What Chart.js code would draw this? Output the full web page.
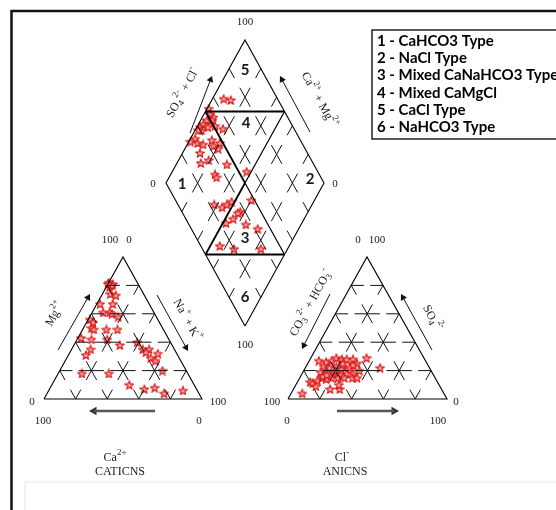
<!DOCTYPE html>
<html>
<head>
<meta charset="utf-8">
<script src="https://cdn.jsdelivr.net/npm/chart.js@4.4.1/dist/chart.umd.min.js"></script>
<style>
  html, body { margin: 0; padding: 0; background: #fff; }
  #wrap { width: 556px; height: 510px; }
</style>
</head>
<body>
<div id="wrap"><canvas id="piper" width="556" height="510"></canvas></div>
<script>
// cation triangle, percent of meq
var catCa  = [18, 18, 16, 19, 17, 19, 21, 18, 31, 23, 32, 28, 27, 24, 43, 42, 45, 44, 36, 29, 55, 49, 39, 33, 53, 58, 21, 20, 16, 19, 18, 16, 12, 67, 50, 15, 41, 33, 26, 22, 9];
var catMg  = [80, 82, 81, 79, 80, 81, 74, 73, 67, 67, 61, 61, 60, 58, 56, 54, 50, 49, 49, 49, 43, 42, 42, 38, 35, 31, 40, 35, 35, 33, 29, 27, 32, 18, 18, 20, 10, 7, 8, 4, 6];
var catNaK = [2, 0, 3, 2, 3, 0, 5, 9, 2, 10, 7, 11, 13, 18, 1, 4, 5, 7, 15, 22, 2, 9, 19, 29, 12, 11, 39, 45, 49, 48, 53, 57, 56, 15, 32, 65, 49, 60, 66, 74, 85];

// anion triangle
var anCO3 = [89, 70, 64, 80, 79, 75, 71, 69, 67, 63, 59, 55, 52, 49, 45, 44, 66, 63, 58, 54, 50, 70, 66, 62, 59, 54, 50, 70, 65, 61, 57, 52, 49, 36, 31, 45, 63, 78, 60, 56, 67, 53, 47];
var anSO4 = [4, 7, 7, 12, 11, 13, 15, 14, 27, 26, 27, 29, 28, 28, 28, 25, 23, 22, 23, 23, 22, 19, 19, 18, 17, 18, 18, 16, 15, 15, 15, 15, 15, 29, 22, 20, 10, 9, 20, 21, 17, 25, 24];
var anCl  = [7, 23, 29, 8, 10, 12, 14, 17, 6, 11, 14, 16, 20, 23, 27, 31, 11, 15, 19, 23, 28, 11, 15, 20, 24, 28, 32, 14, 20, 24, 28, 33, 36, 35, 47, 35, 27, 13, 20, 23, 16, 22, 29];

// diamond field
var diaSO4Cl = [66, 70, 53, 52, 53, 48, 51, 44, 41, 41, 39, 46, 51, 55, 34, 30, 34, 37, 44, 43, 48, 45, 32, 29, 35, 45, 34, 34, 55, 23, 27, 31, 35, 48, 37, 35, 24, 30, 36, 42, 12, 20, 37];
var diaCaMg  = [93, 88, 99, 96, 93, 96, 93, 97, 98, 96, 98, 93, 89, 83, 97, 99, 94, 90, 86, 83, 80, 79, 89, 85, 81, 68, 72, 70, 53, 62, 56, 54, 52, 40, 43, 44, 48, 45, 35, 26, 44, 34, 17];

var typeLabels = ["1 - CaHCO3 Type", "2 - NaCl Type", "3 - Mixed CaNaHCO3 Type", "4 - Mixed CaMgCl", "5 - CaCl Type", "6 - NaHCO3 Type"];
var zoneNames = ["1", "2", "3", "4", "5", "6"];
var tickLo = "0", tickHi = "100";

// layout (chart units == pixels)
var catTri = {left: [44, 399], top: [123, 257], right: [202, 399]};
var anTri = {left: [288, 399], top: [367, 257], right: [447, 399]};
var dia = {bottom: [245, 326], right: [324, 183], left: [166, 183]};

var SERIF = '"Liberation Serif", "DejaVu Serif", serif';
var SANS = 'Lato, "Open Sans", sans-serif';
var GAP = {x: null, y: null};

function bary(tri, a, b, c) {
    return [a * tri.left[0] + b * tri.top[0] + c * tri.right[0],
            a * tri.left[1] + b * tri.top[1] + c * tri.right[1]];
}

function diaPt(s, t) {
    var b = dia.bottom;
    return [b[0] + s * (dia.right[0] - b[0]) + t * (dia.left[0] - b[0]),
            b[1] + s * (dia.right[1] - b[1]) + t * (dia.left[1] - b[1])];
}

function lerp(a, b, f) {
    return [a[0] + (b[0] - a[0]) * f, a[1] + (b[1] - a[1]) * f];
}

function xy(p) {
    return {x: p[0], y: p[1]};
}

// every grid piece is drawn from both ends with a gap in its middle
function brokenSegs(list, f) {
    var out = [];
    list.forEach(function (s) {
        out.push(xy(s[0]), xy(lerp(s[0], s[1], f)), GAP, xy(lerp(s[0], s[1], 1 - f)), xy(s[1]), GAP);
    });
    return out;
}

function solidSegs(list) {
    var out = [];
    list.forEach(function (s) {
        s.forEach(function (p) { out.push(xy(p)); });
        out.push(GAP);
    });
    return out;
}

function triGrid(tri) {
    var hor = [], diag = [];
    for (var k = 1; k < 5; k++) {
        var v = k / 5;
        for (var j = 0; j < 5 - k; j++) {
            var u0 = j / 5, u1 = (j + 1) / 5;
            hor.push([bary(tri, 1 - v - u0, v, u0), bary(tri, 1 - v - u1, v, u1)]);
            diag.push([bary(tri, v, u0, 1 - v - u0), bary(tri, v, u1, 1 - v - u1)]);
            diag.push([bary(tri, u0, 1 - v - u0, v), bary(tri, u1, 1 - v - u1, v)]);
        }
    }
    return {hor: hor, diag: diag};
}

function diaGrid() {
    var out = [];
    for (var k = 1; k < 5; k++) {
        for (var j = 0; j < 5; j++) {
            out.push([diaPt(k / 5, j / 5), diaPt(k / 5, (j + 1) / 5)]);
            out.push([diaPt(j / 5, k / 5), diaPt((j + 1) / 5, k / 5)]);
        }
    }
    return out;
}

function triOutline(tri) {
    return [tri.left, tri.top, tri.right, tri.left];
}

var catGrid = triGrid(catTri);
var anGrid = triGrid(anTri);

var outlines = solidSegs([
    triOutline(catTri),
    triOutline(anTri),
    [diaPt(0, 0), diaPt(1, 0), diaPt(1, 1), diaPt(0, 1), diaPt(0, 0)]
]);

var zoneLinesBold = solidSegs([
    [diaPt(0.5, 1), diaPt(1, 0.5)],
    [diaPt(0, 0.5), diaPt(0.5, 0)],
    [diaPt(0.5, 1), diaPt(0.5, 0.5)],
    [diaPt(0.5, 0.5), diaPt(0, 0.5)]
]);
var zoneLinesThin = solidSegs([
    [diaPt(1, 0.5), diaPt(0.5, 0.5)],
    [diaPt(0.5, 0.5), diaPt(0.5, 0)]
]);

// figure frame and arrows
var frame = solidSegs([[[11.5, 512], [11.5, 11], [560, 11]]]);
var edgeArrows = [
    [[58, 350], [90, 294]],
    [[157, 295], [188, 351]],
    [[330, 294], [302, 349]],
    [[432, 350], [401, 294]],
    [[190, 133], [212, 76]],
    [[310, 132], [280, 76]]
];
var baseArrows = [
    [[155, 411], [89, 411]],
    [[337, 411], [399, 411]]
];

function arrowParts(list, r) {
    var lines = [], heads = [], rot = [];
    list.forEach(function (a) {
        var dx = a[1][0] - a[0][0], dy = a[1][1] - a[0][1];
        var len = Math.sqrt(dx * dx + dy * dy);
        var c = lerp(a[0], a[1], 1 - r / len);
        lines.push([a[0], c]);
        heads.push(xy(c));
        rot.push(Math.atan2(dx, -dy) * 180 / Math.PI);
    });
    return {lines: solidSegs(lines), heads: heads, rot: rot};
}

var thinArr = arrowParts(edgeArrows, 4);
var thickArr = arrowParts(baseArrows, 5);

function makeStar(size) {
    var c = document.createElement('canvas');
    c.width = size;
    c.height = size;
    var g = c.getContext('2d');
    var cx = size / 2, cy = size / 2 + 0.5, R = size / 2 - 0.6, r = R * 0.45;
    g.beginPath();
    for (var i = 0; i < 10; i++) {
        var ang = -Math.PI / 2 + i * Math.PI / 5;
        var rr = i % 2 ? r : R;
        g.lineTo(cx + rr * Math.cos(ang), cy + rr * Math.sin(ang));
    }
    g.closePath();
    g.fillStyle = '#f2a0a0';
    g.fill();
    g.strokeStyle = '#dc1414';
    g.lineWidth = 1.1;
    g.stroke();
    return c;
}
var star = makeStar(10);

var catPts = catCa.map(function (v, i) {
    return xy(bary(catTri, v / 100, catMg[i] / 100, catNaK[i] / 100));
});
var anPts = anCO3.map(function (v, i) {
    return xy(bary(anTri, v / 100, anSO4[i] / 100, anCl[i] / 100));
});
var diaPts = diaSO4Cl.map(function (v, i) {
    return xy(diaPt(v / 100, diaCaMg[i] / 100));
});

function lineSet(data, width, color) {
    return {data: data, showLine: true, borderColor: color, borderWidth: width,
            pointRadius: 0, fill: false, spanGaps: false};
}

function starSet(data) {
    return {data: data, pointStyle: star, pointRadius: 5, showLine: false};
}

var edgeAngle = Math.atan2(dia.bottom[1] - dia.right[1], dia.right[0] - dia.bottom[0]) * 180 / Math.PI;

function drawRich(ctx, runs, x, y, angle, size, family, weight) {
    var small = Math.round(size * 0.72);
    var fontOf = function (r) { return (weight || '') + ' ' + (r[1] ? small : size) + 'px ' + family; };
    var total = 0;
    runs.forEach(function (r) {
        ctx.font = fontOf(r);
        total += ctx.measureText(r[0]).width;
    });
    ctx.save();
    ctx.translate(x, y);
    ctx.rotate(angle * Math.PI / 180);
    ctx.textBaseline = 'middle';
    ctx.textAlign = 'left';
    var cx = -total / 2;
    runs.forEach(function (r) {
        var dy = r[1] === 'sup' ? -size * 0.45 : (r[1] === 'sub' ? size * 0.3 : 0);
        ctx.font = fontOf(r);
        ctx.fillText(r[0], cx, dy);
        cx += ctx.measureText(r[0]).width;
    });
    ctx.restore();
}

var texts = [
    // diamond
    {at: [245, 22], runs: [[tickHi]]},
    {at: [153, 184], runs: [[tickLo]]},
    {at: [335, 184], runs: [[tickLo]]},
    {at: [245, 345], runs: [[tickHi]]},
    {at: [183, 93], runs: [["SO"], ["4", "sub"], ["2-", "sup"], [" + Cl"], ["-", "sup"]], angle: -edgeAngle, size: 12},
    {at: [319, 100], runs: [["Ca"], ["2+", "sup"], [" + Mg"], ["2+", "sup"]], angle: edgeAngle, size: 12},
    // cations
    {at: [110, 240], runs: [[tickHi]]},
    {at: [129, 240], runs: [[tickLo]]},
    {at: [32, 402], runs: [[tickLo]]},
    {at: [218, 402], runs: [[tickHi]]},
    {at: [43, 421], runs: [[tickHi]]},
    {at: [199, 421], runs: [[tickLo]]},
    {at: [55, 314], runs: [["Mg"], ["2+", "sup"]], angle: -edgeAngle, size: 12},
    {at: [187, 320], runs: [["Na"], ["+", "sup"], [" + K"], ["+", "sup"]], angle: edgeAngle, size: 12},
    {at: [115, 458], runs: [["Ca"], ["2+", "sup"]], size: 12},
    {at: [120, 472], runs: [["CATICNS"]], size: 12},
    // anions
    {at: [358, 240], runs: [[tickLo]]},
    {at: [377, 240], runs: [[tickHi]]},
    {at: [272, 402], runs: [[tickHi]]},
    {at: [456, 402], runs: [[tickLo]]},
    {at: [287, 421], runs: [[tickLo]]},
    {at: [438, 421], runs: [[tickHi]]},
    {at: [311, 303], runs: [["CO"], ["3", "sub"], ["2-", "sup"], [" + HCO"], ["3", "sub"], ["-", "sup"]], angle: -edgeAngle, size: 12},
    {at: [432, 318], runs: [["SO"], ["4", "sub"], ["2-", "sup"]], angle: edgeAngle, size: 12},
    {at: [342, 458], runs: [["Cl"], ["-", "sup"]], size: 12},
    {at: [345, 472], runs: [["ANICNS"]], size: 12}
];

var zoneSpots = [[182, 184], [310, 179], [245, 238], [246, 123], [245, 70], [245, 297]];

var piperText = {
    id: 'piperText',
    afterDatasetsDraw: function (chart) {
        var ctx = chart.ctx;
        var sx = chart.scales.x, sy = chart.scales.y;
        var P = function (p) { return [sx.getPixelForValue(p[0]), sy.getPixelForValue(p[1])]; };
        ctx.save();
        ctx.fillStyle = '#1a1a1a';
        texts.forEach(function (t) {
            var p = P(t.at);
            drawRich(ctx, t.runs, p[0], p[1], t.angle || 0, t.size || 11, SERIF);
        });
        zoneNames.forEach(function (z, i) {
            var p = P(zoneSpots[i]);
            drawRich(ctx, [[z]], p[0], p[1], 0, 15, SANS, 'bold');
        });
        // type legend box
        var b0 = P([372, 30]), b1 = P([600, 139]);
        ctx.strokeStyle = '#000';
        ctx.lineWidth = 1.3;
        ctx.strokeRect(b0[0], b0[1], b1[0] - b0[0], b1[1] - b0[1]);
        ctx.font = 'bold 15px ' + SANS;
        ctx.textBaseline = 'middle';
        ctx.textAlign = 'left';
        ctx.fillStyle = '#000';
        typeLabels.forEach(function (s, i) {
            var p = P([377, 41 + i * 17.3]);
            ctx.fillText(s, p[0], p[1]);
        });
        // faint caption box at the foot
        var c0 = P([25, 482]), c1 = P([600, 530]);
        ctx.strokeStyle = '#f0f0ea';
        ctx.lineWidth = 1.5;
        ctx.strokeRect(c0[0], c0[1], c1[0] - c0[0], c1[1] - c0[1]);
        ctx.restore();
    }
};

new Chart(document.getElementById('piper'), {
    type: 'scatter',
    data: {
        datasets: [
            lineSet(frame, 2.5, '#111'),
            lineSet(brokenSegs(catGrid.hor, 0.4), 1, '#111'),
            lineSet(brokenSegs(catGrid.diag, 0.33), 1, '#111'),
            lineSet(brokenSegs(anGrid.hor, 0.4), 1, '#111'),
            lineSet(brokenSegs(anGrid.diag, 0.33), 1, '#111'),
            lineSet(brokenSegs(diaGrid(), 0.33), 1, '#111'),
            lineSet(outlines, 1.1, '#000'),
            lineSet(zoneLinesBold, 1.8, '#000'),
            lineSet(zoneLinesThin, 1.2, '#000'),
            lineSet(thinArr.lines, 1, '#111'),
            {data: thinArr.heads, pointStyle: 'triangle', pointRadius: 4, pointRotation: thinArr.rot,
             backgroundColor: '#111', borderColor: '#111', borderWidth: 0},
            lineSet(thickArr.lines, 2.5, '#555'),
            {data: thickArr.heads, pointStyle: 'triangle', pointRadius: 5, pointRotation: thickArr.rot,
             backgroundColor: '#333', borderColor: '#333', borderWidth: 0},
            starSet(catPts),
            starSet(anPts),
            starSet(diaPts)
        ]
    },
    options: {
        responsive: false,
        animation: false,
        events: [],
        layout: {padding: 0, autoPadding: false},
        plugins: {legend: {display: false}, tooltip: {enabled: false}},
        scales: {
            x: {type: 'linear', min: 0, max: 556, display: false},
            y: {type: 'linear', min: 0, max: 510, reverse: true, display: false}
        }
    },
    plugins: [piperText]
});
</script>
</body>
</html>
